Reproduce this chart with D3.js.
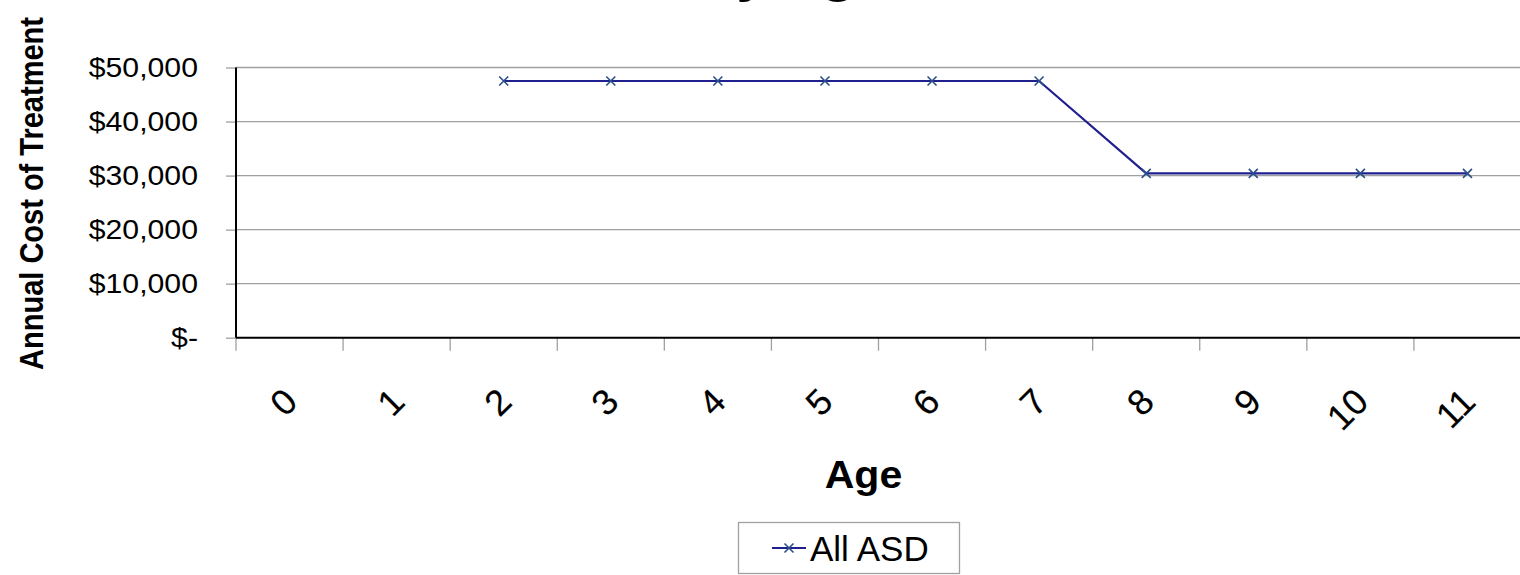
<!DOCTYPE html>
<html>
<head>
<meta charset="utf-8">
<script src="https://cdn.jsdelivr.net/npm/d3@7"></script>
<style>
html,body{margin:0;padding:0;background:#fff;}
svg{display:block;font-family:Arial,"Liberation Sans",sans-serif;}
</style>
</head>
<body>
<svg id="chart" width="1520" height="575"></svg>
<script>
const ages = ["0","1","2","3","4","5","6","7","8","9","10","11"];
const allASD = [null,null,47500,47500,47500,47500,47500,47500,30400,30400,30400,30400];
const yTicks = [0,10000,20000,30000,40000,50000];
const seriesName = "All ASD";
const chartTitle = "Annual Cost of Treatment by Age";
const xTitle = "Age";
const yTitle = "Annual Cost of Treatment";

const svg = d3.select("#chart");
const L = 236, R = 1521, T = 67.5, B = 337.7;

const x = d3.scaleBand().domain(ages).range([L, R]);
const y = d3.scaleLinear().domain([0, 50000]).range([B, T]);

// title (mostly cut off at top of the picture)
svg.append("text").attr("transform","translate(886,-8.5) scale(1.16,1)")
  .attr("text-anchor","end").attr("font-weight","bold").attr("font-size",48).text(chartTitle);

// gridlines
svg.append("g").selectAll("line").data(yTicks.filter(d=>d>0)).join("line")
  .attr("x1", L).attr("x2", R).attr("y1", d=>y(d)).attr("y2", d=>y(d))
  .attr("stroke","#a0a0a0").attr("stroke-width",1.3);

// y axis (ticks only; labels drawn stretched)
const fmt = d => d === 0 ? "$-" : "$" + d3.format(",")(d);
const yAxis = svg.append("g").attr("transform",`translate(${L},0)`)
  .call(d3.axisLeft(y).tickValues(yTicks).tickFormat("").tickSize(10));
yAxis.select(".domain").remove();
yAxis.selectAll(".tick line").attr("stroke","#a0a0a0").attr("stroke-width",1.3);
svg.append("g").selectAll("text").data(yTicks).join("text")
  .attr("transform", d=>`translate(198,${y(d)}) scale(1.12,1)`)
  .attr("text-anchor","end").attr("dy","0.36em").attr("font-size",27).text(fmt);

// x axis ticks at band boundaries
const bounds = ages.map(a => x(a)).concat([R]);
svg.append("g").selectAll("line").data(bounds).join("line")
  .attr("x1", d=>d).attr("x2", d=>d).attr("y1", B).attr("y2", B+13)
  .attr("stroke","#a0a0a0").attr("stroke-width",1.3);

// axis lines
svg.append("line").attr("x1",L).attr("x2",L).attr("y1",T).attr("y2",B)
  .attr("stroke","#000").attr("stroke-width",2);
svg.append("line").attr("x1",L).attr("x2",R).attr("y1",B).attr("y2",B)
  .attr("stroke","#000").attr("stroke-width",2);

// x labels rotated
svg.append("g").selectAll("text").data(ages).join("text")
  .attr("transform", d => `translate(${x(d)+x.bandwidth()/2+1},395) rotate(-45)`)
  .attr("text-anchor","end").attr("dy","0.35em")
  .attr("font-size",36).attr("stroke","#000").attr("stroke-width",0.2).text(d=>d);

// line
const pts = ages.map((a,i)=>({a, v: allASD[i]})).filter(d=>d.v!=null);
const line = d3.line().x(d=>x(d.a)+x.bandwidth()/2).y(d=>y(d.v));
svg.append("path").datum(pts).attr("d", line).attr("fill","none")
  .attr("stroke","#1f1f8f").attr("stroke-width",2.2);

// markers
const m = 4.5;
const mk = svg.append("g").selectAll("g").data(pts).join("g")
  .attr("transform", d=>`translate(${x(d.a)+x.bandwidth()/2},${y(d.v)})`);
mk.append("path").attr("d",`M${-m},${-m}L${m},${m}M${-m},${m}L${m},${-m}`)
  .attr("stroke","#2a4f8a").attr("stroke-width",1.6);

// axis titles
svg.append("text").attr("transform","translate(863.5,488) scale(1.08,1)").attr("text-anchor","middle")
  .attr("font-weight","bold").attr("font-size",38).text(xTitle);
svg.append("text").attr("transform","translate(43,193.5) rotate(-90) scale(1,1.15)")
  .attr("text-anchor","middle").attr("font-weight","bold").attr("font-size",29).text(yTitle);

// legend
const lg = svg.append("g");
lg.append("rect").attr("x",738.5).attr("y",522.5).attr("width",221).attr("height",51)
  .attr("fill","#fff").attr("stroke","#a0a0a0").attr("stroke-width",1.3);
lg.append("line").attr("x1",772).attr("x2",806).attr("y1",548).attr("y2",548)
  .attr("stroke","#1f1f8f").attr("stroke-width",2.2);
lg.append("path").attr("d",`M${789-m},${548-m}L${789+m},${548+m}M${789-m},${548+m}L${789+m},${548-m}`)
  .attr("stroke","#2a4f8a").attr("stroke-width",1.6);
lg.append("text").attr("x",810).attr("y",561).attr("font-size",35).text(seriesName);
</script>
</body>
</html>
